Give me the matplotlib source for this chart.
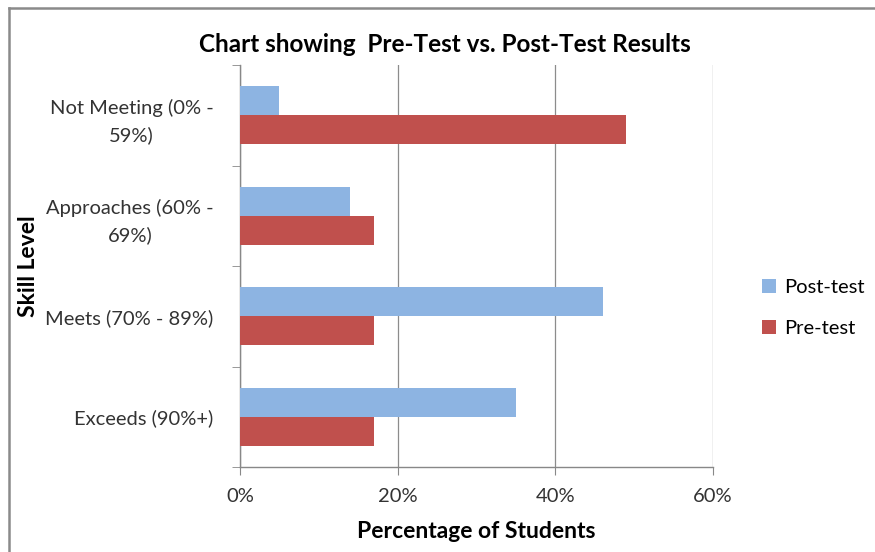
import matplotlib
matplotlib.use("Agg")
import matplotlib.pyplot as plt
import numpy as np
from matplotlib.lines import Line2D

categories = ["Not Meeting (0% -\n59%)", "Approaches (60% -\n69%)", "Meets (70% - 89%)", "Exceeds (90%+)"]
post_test = [5, 14, 46, 35]
pre_test = [49, 17, 17, 17]
x_ticks = [0, 20, 40, 60]
x_tick_labels = ["0%", "20%", "40%", "60%"]

plt.rcParams['font.family'] = ['Lato', 'DejaVu Sans']

W, H = 875, 552
fig = plt.figure(figsize=(W/100, H/100), dpi=100)
fig.lines.append(Line2D([8.5/W, 8.5/W], [0, 1 - 8/H], transform=fig.transFigure,
                        color='#8a8a8a', linewidth=1.8))
fig.lines.append(Line2D([8.5/W, 1], [1 - 8/H, 1 - 8/H], transform=fig.transFigure,
                        color='#8a8a8a', linewidth=1.8))
ax = fig.add_axes([240/W, 1 - 467/H, 473/W, 402/H])

n = len(categories)
y = np.arange(n)
h = 0.29
ax.barh(y - h/2, post_test, height=h, color='#8DB4E2', label='Post-test', zorder=3)
ax.barh(y + h/2, pre_test, height=h, color='#C0504D', label='Pre-test', zorder=3)

ax.set_ylim(n - 0.5, -0.5)
ax.set_xlim(0, 60)
ax.set_xticks(x_ticks)
ax.set_xticklabels(x_tick_labels, fontsize=14.5, color='#333333')
ax.set_yticks(y)
ax.set_yticklabels(categories, fontsize=14.5, color='#333333', linespacing=1.6)
ax.set_yticks(np.arange(n + 1) - 0.5, minor=True)
ax.tick_params(axis='y', which='major', length=0, pad=19)
ax.tick_params(axis='y', which='minor', length=6, color='#888888', direction='out')
ax.tick_params(axis='x', length=6, color='#888888', direction='out', pad=9)
for lab in ax.get_yticklabels():
    lab.set_multialignment('center')

ax.grid(axis='x', color='#8c8c8c', linewidth=0.9, zorder=0)
for s in ['top', 'right']:
    ax.spines[s].set_visible(False)
for s in ['left', 'bottom']:
    ax.spines[s].set_color('#888888')
    ax.spines[s].set_linewidth(1.0)

ax.set_xlabel("Percentage of Students", fontsize=16.5, fontweight='bold', labelpad=12)
fig.text(29/W, 1 - 266/H, "Skill Level", rotation=90, fontsize=16.5, fontweight='bold',
         ha='center', va='center')
fig.text(445/W, 1 - 44/H, "Chart showing  Pre-Test vs. Post-Test Results", fontsize=17.5,
         fontweight='bold', ha='center', va='center')

leg = fig.legend(loc='center left', bbox_to_anchor=(744/W, 1 - 308/H), frameon=False,
                 fontsize=14.5, handlelength=0.7, handleheight=0.7, labelspacing=1.2,
                 handletextpad=0.4)

fig.savefig("out.png", dpi=100)
